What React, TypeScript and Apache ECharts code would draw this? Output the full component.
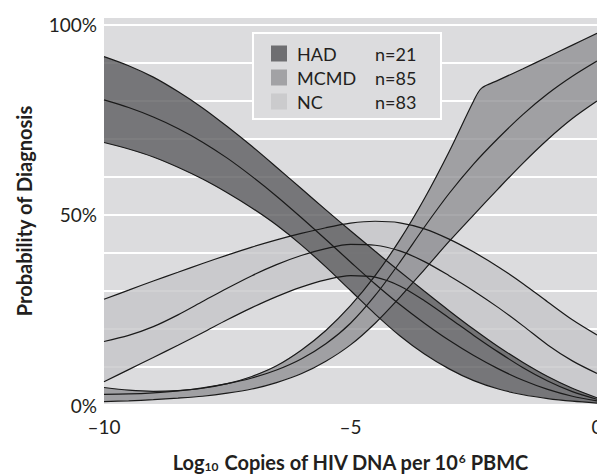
import React, { useEffect, useRef } from "react";
import * as echarts from "echarts";

// x positions (log10 copies of HIV DNA per 10^6 PBMC)
const xs = [-10, -9.5, -9, -8.5, -8, -7.5, -7, -6.5, -6, -5.5, -5, -4.5, -4, -3.5, -3, -2.5, -2, -1.5, -1, -0.5, 0];
const mcmdUpperXs = [-10, -9.5, -9, -8.5, -8, -7.5, -7, -6.5, -6, -5.5, -5, -4.5, -4, -3.5, -3, -2.5, -2.34, -2, -1.5, -1, -0.5, 0];

const groups = ["HAD", "MCMD", "NC"];
const counts = [21, 85, 83];

// probabilities (%)
const hadUpper = [91.6, 89.2, 86.2, 82.4, 78.1, 73.2, 68.0, 62.5, 56.9, 51.3, 45.8, 40.4, 35.1, 29.9, 24.8, 19.9, 15.3, 11.2, 7.5, 4.4, 1.9];
const hadMid = [80.2, 78.2, 75.7, 72.7, 69.1, 64.9, 60.1, 54.9, 49.3, 43.5, 37.6, 31.8, 26.4, 21.5, 17.0, 13.0, 9.5, 6.5, 4.1, 2.3, 1.1];
const hadLower = [69, 67.3, 65.2, 62.5, 59.4, 55.8, 51.8, 47.3, 42.1, 36.3, 30.1, 23.9, 18.2, 13.4, 9.5, 6.4, 4.2, 2.7, 1.7, 1.0, 0.5];

const mcmdUpper = [4.6, 3.9, 3.6, 3.8, 4.4, 5.6, 7.5, 10.3, 14.4, 19.6, 26.1, 34.0, 43.4, 54.3, 66.6, 80.0, 83.3, 85.4, 88.4, 91.5, 94.6, 97.7];
const mcmdMid = [2.8, 2.9, 3.2, 3.7, 4.5, 5.6, 7.1, 9.2, 12.1, 16.1, 21.5, 28.8, 37.5, 46.8, 55.6, 63.4, 70.2, 76.4, 81.8, 86.4, 90.4];
const mcmdLower = [0.9, 1.1, 1.4, 1.8, 2.3, 3.1, 4.2, 5.9, 8.2, 11.5, 15.8, 21.5, 28.3, 35.6, 43.0, 50.0, 56.9, 63.6, 69.8, 75.3, 79.9];

const ncUpper = [27.8, 30.2, 32.6, 34.9, 37.2, 39.4, 41.5, 43.4, 45.1, 46.6, 47.8, 48.3, 47.9, 46.3, 43.6, 40.2, 36.3, 31.9, 27.1, 22.4, 18.4];
const ncMid = [16.7, 18.3, 20.6, 23.7, 27.2, 30.7, 34.0, 36.9, 39.3, 41.1, 42.2, 42.0, 40.5, 37.7, 34.0, 30.0, 25.6, 20.8, 15.8, 11.6, 8.3];
const ncLower = [6.1, 9.3, 12.5, 15.7, 19.0, 22.4, 25.6, 28.5, 31.0, 32.9, 34.0, 33.6, 31.3, 27.4, 22.9, 18.3, 13.9, 9.8, 6.3, 3.5, 1.5];

const xTickValues = [-10, -5, 0];
const yTickLabels = [0, 50, 100];

const BG = "#dcdcde";
const TEXT = "#231f20";
const FONT = "Lato";

const pts = (x: number[], y: number[]) => x.map((v, i) => [v, y[i]]);

export default function App() {
  const ref = useRef<HTMLDivElement>(null);

  useEffect(() => {
    if (!ref.current) return;
    const chart = echarts.init(ref.current, null, { renderer: "svg" });

    const bands = [
      { name: "NC", upper: pts(xs, ncUpper), mid: pts(xs, ncMid), lower: pts(xs, ncLower), fill: "rgba(198,198,200,0.8)" },
      { name: "HAD", upper: pts(xs, hadUpper), mid: pts(xs, hadMid), lower: pts(xs, hadLower), fill: "rgba(92,92,95,0.8)" },
      { name: "MCMD", upper: pts(mcmdUpperXs, mcmdUpper), mid: pts(xs, mcmdMid), lower: pts(xs, mcmdLower), fill: "rgba(141,141,144,0.76)" },
    ];

    const series: any[] = [];
    bands.forEach((b) => {
      series.push({
        type: "custom",
        name: b.name + " band",
        coordinateSystem: "cartesian2d",
        silent: true,
        data: [[-5, 50]],
        renderItem: (_params: any, api: any) => {
          const poly = b.upper
            .map((p) => api.coord(p))
            .concat(b.lower.slice().reverse().map((p) => api.coord(p)));
          return { type: "polygon", shape: { points: poly }, style: { fill: b.fill, stroke: "none" } };
        },
      });
      [b.upper, b.mid, b.lower].forEach((d, k) => {
        series.push({
          type: "line",
          name: b.name + ["U", "M", "L"][k],
          data: d,
          smooth: 0.3,
          symbol: "none",
          silent: true,
          lineStyle: { color: "#1a1a1a", width: 1.2 },
        });
      });
    });

    const legendSquare = ["#6e6e71", "#a2a2a5", "#cbcbcd"];
    const graphic: any[] = [
      { type: "rect", z: 100, shape: { x: 253, y: 33, width: 188, height: 86 }, style: { fill: BG, stroke: "#ffffff", lineWidth: 2 } },
    ];
    groups.forEach((g, i) => {
      graphic.push({ type: "rect", z: 101, shape: { x: 271, y: 45.5 + 24 * i, width: 16, height: 16 }, style: { fill: legendSquare[i] } });
      graphic.push({ type: "text", z: 101, x: 297, y: 54 + 24 * i, style: { text: g, fontSize: 18, fontFamily: FONT, fill: TEXT, verticalAlign: "middle" } });
      graphic.push({ type: "text", z: 101, x: 375, y: 54 + 24 * i, style: { text: "n=" + counts[i], fontSize: 18, fontFamily: FONT, fill: TEXT, verticalAlign: "middle" } });
    });

    const option: any = {
      animation: false,
      grid: {
        left: 104,
        right: 0,
        top: 17,
        bottom: 69,
        show: true,
        backgroundColor: BG,
        borderWidth: 0,
        containLabel: false,
        outerBoundsMode: "none",
      },
      xAxis: {
        type: "value",
        min: -10,
        max: 0,
        interval: 5,
        axisLine: { show: false },
        axisTick: { show: false },
        splitLine: { show: false },
        axisLabel: {
          margin: 12,
          fontSize: 19,
          fontFamily: FONT,
          color: TEXT,
          formatter: (v: number) => (xTickValues.includes(v) ? (v < 0 ? "\u2013" + Math.abs(v) : String(v)) : ""),
        },
        name: "{b|Log}{sub|10}{b| Copies of HIV DNA per 10}{sup|6}{b| PBMC}",
        nameLocation: "middle",
        nameGap: 47,
        nameTextStyle: {
          color: TEXT,
          rich: {
            b: { fontSize: 20, fontWeight: "bold", fontFamily: FONT, color: TEXT, lineHeight: 20 },
            sub: { fontSize: 12, fontWeight: "bold", fontFamily: FONT, color: TEXT, lineHeight: 4, verticalAlign: "bottom" },
            sup: { fontSize: 12, fontWeight: "bold", fontFamily: FONT, color: TEXT, lineHeight: 6, verticalAlign: "top" },
          },
        },
      },
      yAxis: {
        type: "value",
        min: 0,
        max: 102,
        interval: 10,
        axisLine: { show: false },
        axisTick: { show: false },
        splitLine: { show: true, lineStyle: { color: "#ffffff", width: 2 } },
        axisLabel: {
          margin: 7,
          fontSize: 19,
          fontFamily: FONT,
          color: TEXT,
          formatter: (v: number) => (yTickLabels.includes(v) ? v + "%" : ""),
        },
        name: "Probability of Diagnosis",
        nameLocation: "middle",
        nameGap: 70,
        nameRotate: 90,
        nameTextStyle: { fontSize: 20, fontWeight: "bold", fontFamily: FONT, color: TEXT },
      },
      series,
      graphic,
    };

    chart.setOption(option);
    return () => chart.dispose();
  }, []);

  return <div ref={ref} style={{ position: "absolute", left: 0, top: 0, width: 597, height: 474 }} />;
}
